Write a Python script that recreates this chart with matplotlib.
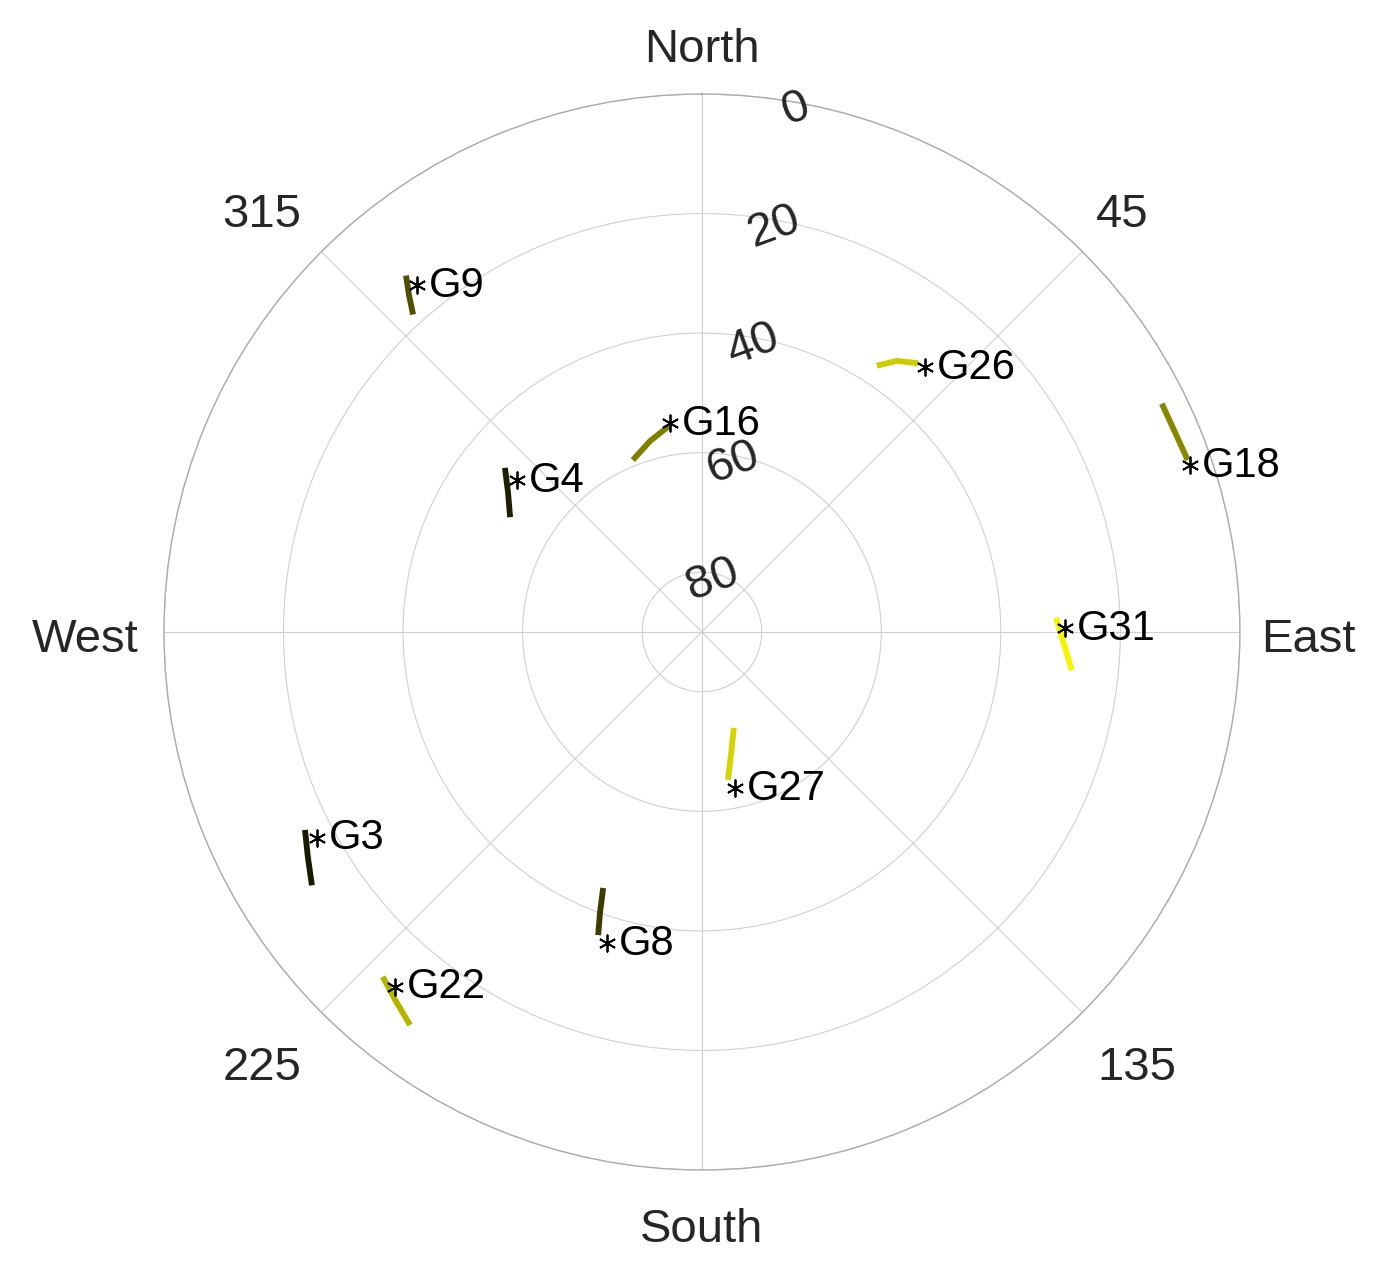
import numpy as np
import matplotlib
matplotlib.use("Agg")
import matplotlib.pyplot as plt

plt.rcParams['font.family'] = ['Liberation Sans', 'DejaVu Sans']

# Satellite tracks: (azimuth deg, elevation deg), listed start -> end
sats = ["G9", "G4", "G16", "G26", "G18", "G31", "G27", "G8", "G3", "G22"]
az = {
    "G9":  [317.7, 319.0, 320.3],
    "G4":  [300.9, 305.8, 309.8],
    "G16": [338.1, 344.8, 350.9],
    "G26": [33.3, 35.7, 38.8],
    "G18": [63.6, 67.1, 70.5],
    "G31": [95.9, 91.9, 87.7],
    "G27": [161.6, 166.6, 170.0],
    "G8":  [201.1, 200.0, 198.9],
    "G3":  [237.0, 240.3, 243.5],
    "G22": [216.6, 219.7, 222.8],
}
el = {
    "G9":  [18.2, 15.3, 12.5],
    "G4":  [52.6, 50.0, 47.1],
    "G16": [59.0, 56.9, 55.1],
    "G26": [36.7, 34.15, 32.3],
    "G18": [4.1, 4.1, 3.8],
    "G31": [27.8, 29.4, 30.7],
    "G27": [73.1, 69.0, 64.9],
    "G8":  [44.1, 40.2, 36.4],
    "G3":  [12.2, 14.1, 15.8],
    "G22": [8.1, 9.8, 11.4],
}
# Position of the '*' marker (current satellite position)
mark_az = {"G9": 320.6, "G4": 309.4, "G16": 351.3, "G26": 40.1, "G18": 71.1,
           "G31": 89.4, "G27": 168.1, "G8": 197.0, "G3": 241.9, "G22": 220.9}
mark_el = {"G9": 14.9, "G4": 50.0, "G16": 54.6, "G26": 32.1, "G18": 3.7,
           "G31": 29.3, "G27": 63.3, "G8": 35.6, "G3": 17.0, "G22": 11.5}
colors = {
    "G9": "#505000", "G4": "#1e1e00", "G16": "#808000", "G26": "#cccc00",
    "G18": "#888800", "G31": "#f5f500", "G27": "#d4d400", "G8": "#3c3c00",
    "G3": "#191900", "G22": "#b4b400",
}
theta_ticks = [0, 45, 90, 135, 180, 225, 270, 315]
theta_labels = ["North", "45", "East", "135", "South", "225", "West", "315"]
elev_ticks = [0, 20, 40, 60, 80]

# label offsets (points) from the outer circle for each direction label
theta_label_offsets = [(0, 31.7), (28.5, 26.4), (49, -5.8), (39.3, -40),
                       (0, -43.2), (-42.9, -40), (-56.9, -5.8), (-42.9, 26.4)]

fig = plt.figure(figsize=(13.8, 12.62), dpi=100)
ax = fig.add_axes([0.1188, 0.0729, 0.7797, 0.8526], projection='polar')
ax.set_theta_zero_location('N')
ax.set_theta_direction(-1)
ax.set_facecolor('white')

for s in sats:
    th = np.deg2rad(az[s])
    r = 90 - np.array(el[s])
    ax.plot(th, r, color=colors[s], lw=4.2, solid_capstyle='butt',
            solid_joinstyle='round', zorder=3)
    mth = np.deg2rad(mark_az[s])
    mr = 90 - mark_el[s]
    ax.plot([mth], [mr], marker=(6, 2, 0), ms=12.5, mew=1.3,
            color='black', linestyle='none', zorder=4)
    ax.annotate(s, xy=(mth, mr), xytext=(8.6, -8.4),
                textcoords='offset points', ha='left', va='baseline',
                fontsize=30, color='black', zorder=4)

ax.set_ylim(0, 90)
ax.set_yticks([90 - e for e in elev_ticks])
ax.set_yticklabels([])
for e in elev_ticks:
    ax.annotate(str(e), xy=(np.deg2rad(10), 90 - e), xytext=(0, -5),
                textcoords='offset points', ha='center', va='center',
                rotation=20, fontsize=34, color='#262626')
ax.set_xticks(np.deg2rad(theta_ticks))
ax.set_xticklabels([])
for t, lab, off in zip(theta_ticks, theta_labels, theta_label_offsets):
    ax.annotate(lab, xy=(np.deg2rad(t), 90), xytext=off,
                textcoords='offset points', ha='center', va='center',
                fontsize=34, color='#262626', annotation_clip=False)
ax.grid(True, color='#d0d0d0', lw=0.8)
ax.spines['polar'].set_color('#aaaaaa')
ax.spines['polar'].set_linewidth(1.0)

fig.savefig('out.png', dpi=100, facecolor='white')
